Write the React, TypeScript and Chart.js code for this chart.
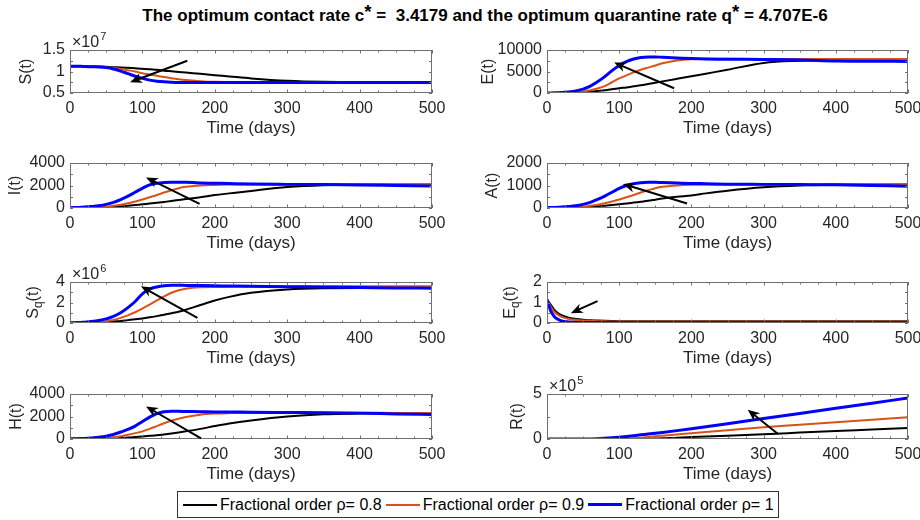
import React, { useEffect, useRef } from "react";
import { Chart, registerables } from "chart.js";

Chart.register(...registerables);

// ---------------- DATA ----------------
const days = [0, 5, 10, 15, 20, 30, 40, 50, 60, 70, 80, 90, 100, 110, 120, 130, 140, 150, 160, 180, 200, 220, 250, 300, 350, 400, 450, 500];
const xTicks = [0, 100, 200, 300, 400, 500];
const seriesNames = ["Fractional order ρ= 0.8", "Fractional order ρ= 0.9", "Fractional order ρ= 1"];

// S(t) ×10^7
const sRho08 = [1.12, 1.12, 1.12, 1.12, 1.12, 1.115, 1.115, 1.11, 1.10, 1.095, 1.085, 1.075, 1.065, 1.05, 1.04, 1.02, 1.005, 0.99, 0.975, 0.945, 0.915, 0.885, 0.84, 0.785, 0.76, 0.755, 0.75, 0.75];
const sRho09 = [1.12, 1.12, 1.12, 1.12, 1.12, 1.115, 1.11, 1.10, 1.08, 1.06, 1.03, 1.00, 0.96, 0.93, 0.90, 0.87, 0.845, 0.82, 0.80, 0.775, 0.76, 0.755, 0.75, 0.75, 0.75, 0.75, 0.75, 0.75];
const sRho1 = [1.12, 1.12, 1.12, 1.12, 1.115, 1.11, 1.105, 1.09, 1.06, 1.01, 0.95, 0.89, 0.84, 0.80, 0.775, 0.76, 0.75, 0.745, 0.745, 0.745, 0.745, 0.745, 0.745, 0.745, 0.745, 0.745, 0.745, 0.745];
const sTicks = [0.5, 1, 1.5];

// E(t)
const eRho08 = [0, 0, 5, 10, 15, 30, 60, 150, 300, 450, 650, 850, 1100, 1300, 1550, 1800, 2100, 2400, 2700, 3300, 3900, 4500, 5400, 7000, 7500, 7700, 7800, 7850];
const eRho09 = [0, 5, 15, 25, 40, 80, 170, 350, 650, 1050, 1600, 2500, 3400, 4100, 4800, 5400, 5900, 6400, 6900, 7550, 7850, 7950, 7950, 7900, 7900, 7900, 7900, 7900];
const eRho1 = [0, 10, 30, 60, 100, 250, 500, 900, 1600, 2600, 3800, 5200, 6400, 7300, 7900, 8250, 8400, 8400, 8300, 8150, 8000, 7900, 7850, 7800, 7700, 7450, 7400, 7350];
const eTicks = [0, 5000, 10000];

// I(t)
const iRho08 = [30, 30, 30, 30, 30, 35, 40, 60, 100, 150, 200, 260, 330, 390, 460, 540, 620, 710, 800, 960, 1150, 1300, 1520, 1860, 2030, 2080, 2090, 2080];
const iRho09 = [30, 30, 30, 32, 35, 45, 70, 120, 190, 290, 420, 580, 750, 950, 1150, 1380, 1580, 1760, 1880, 2000, 2050, 2080, 2100, 2100, 2100, 2110, 2120, 2120];
const iRho1 = [30, 40, 50, 60, 80, 130, 200, 320, 500, 750, 1050, 1400, 1750, 2050, 2200, 2270, 2300, 2300, 2280, 2230, 2200, 2170, 2130, 2100, 2080, 2050, 2000, 1950];
const iTicks = [0, 2000, 4000];

// A(t)
const aRho08 = [15, 15, 15, 15, 15, 18, 20, 30, 50, 75, 100, 130, 165, 200, 240, 280, 320, 370, 420, 500, 560, 650, 770, 920, 1000, 1030, 1040, 1040];
const aRho09 = [15, 15, 15, 16, 18, 22, 35, 60, 95, 145, 210, 290, 380, 480, 580, 690, 790, 880, 940, 1000, 1030, 1040, 1050, 1050, 1050, 1055, 1060, 1060];
const aRho1 = [15, 20, 25, 30, 40, 65, 100, 160, 250, 380, 530, 700, 870, 1000, 1080, 1120, 1140, 1140, 1130, 1110, 1090, 1080, 1060, 1050, 1040, 1030, 1000, 970];
const aTicks = [0, 1000, 2000];

// Sq(t) ×10^6
const sqRho08 = [0.02, 0.02, 0.02, 0.02, 0.02, 0.03, 0.04, 0.08, 0.14, 0.2, 0.28, 0.36, 0.45, 0.55, 0.67, 0.8, 0.95, 1.1, 1.3, 1.75, 2.2, 2.55, 2.95, 3.28, 3.4, 3.42, 3.42, 3.41];
const sqRho09 = [0.02, 0.02, 0.02, 0.03, 0.04, 0.05, 0.1, 0.18, 0.3, 0.5, 0.75, 1.05, 1.4, 1.8, 2.2, 2.6, 2.95, 3.2, 3.35, 3.48, 3.52, 3.54, 3.55, 3.56, 3.57, 3.58, 3.58, 3.58];
const sqRho1 = [0.02, 0.03, 0.04, 0.06, 0.08, 0.14, 0.24, 0.4, 0.65, 1.0, 1.5, 2.1, 2.85, 3.3, 3.52, 3.64, 3.68, 3.68, 3.67, 3.65, 3.63, 3.61, 3.58, 3.54, 3.51, 3.47, 3.42, 3.4];
const sqTicks = [0, 2, 4];

// Eq(t)
const eqRho08 = [1.15, 0.9, 0.65, 0.48, 0.38, 0.26, 0.2, 0.16, 0.13, 0.12, 0.11, 0.1, 0.09, 0.085, 0.08, 0.08, 0.08, 0.08, 0.08, 0.08, 0.08, 0.08, 0.08, 0.08, 0.08, 0.08, 0.08, 0.08];
const eqRho09 = [1.15, 0.8, 0.55, 0.4, 0.3, 0.2, 0.15, 0.12, 0.1, 0.09, 0.08, 0.075, 0.07, 0.07, 0.07, 0.07, 0.07, 0.07, 0.07, 0.07, 0.07, 0.07, 0.07, 0.07, 0.07, 0.07, 0.07, 0.07];
const eqRho1 = [1.15, 0.6, 0.32, 0.18, 0.1, 0.05, 0.03, 0.02, 0.02, 0.02, 0.02, 0.02, 0.02, 0.02, 0.02, 0.02, 0.02, 0.02, 0.02, 0.02, 0.02, 0.02, 0.02, 0.02, 0.02, 0.02, 0.02, 0.02];
const eqTicks = [0, 1, 2];

// H(t)
const hRho08 = [20, 20, 20, 20, 20, 22, 25, 40, 60, 90, 130, 170, 220, 280, 340, 410, 490, 580, 680, 900, 1150, 1380, 1650, 2000, 2200, 2260, 2280, 2280];
const hRho09 = [20, 20, 20, 20, 22, 30, 50, 90, 150, 250, 380, 520, 680, 900, 1150, 1400, 1620, 1800, 1950, 2160, 2260, 2300, 2320, 2320, 2330, 2330, 2320, 2320];
const hRho1 = [20, 25, 30, 40, 50, 90, 150, 250, 400, 620, 850, 1150, 1550, 1950, 2250, 2420, 2460, 2460, 2450, 2430, 2410, 2400, 2380, 2360, 2340, 2300, 2230, 2170];
const hTicks = [0, 2000, 4000];

// R(t) ×10^5
const rRho08 = [0, 0, 0, 0, 0, 0, 0, 0, 0, 0, 0, 0, 0, 0, 0.01, 0.02, 0.03, 0.05, 0.07, 0.15, 0.21, 0.27, 0.36, 0.52, 0.71, 0.9, 1.05, 1.22];
const rRho09 = [0, 0, 0, 0, 0, 0, 0, 0, 0, 0, 0, 0.01, 0.02, 0.05, 0.09, 0.15, 0.22, 0.3, 0.37, 0.51, 0.65, 0.78, 0.98, 1.31, 1.59, 1.87, 2.15, 2.43];
const rRho1 = [0, 0, 0, 0, 0, 0, 0, 0, 0.01, 0.03, 0.07, 0.13, 0.2, 0.28, 0.37, 0.46, 0.55, 0.64, 0.73, 0.93, 1.14, 1.36, 1.7, 2.27, 2.84, 3.41, 3.98, 4.55];
const rTicks = [0, 5];

// Arrow annotations in data coordinates: [fromX, fromY, toX, toY]
const sArrow = [162, 1.25, 83, 0.75];
const eArrow = [176, 1100, 93, 7100];
const iArrow = [179, 360, 105, 2720];
const aArrow = [194, 200, 105, 1070];
const sqArrow = [176, 0.49, 98, 3.58];
const eqArrow = [70, 1.07, 33, 0.48];
const hArrow = [181, 60, 105, 2900];
const rArrow = [320, 0.56, 278, 3.25];

// ---------------- STYLE / LAYOUT ----------------
const FONT = "'Liberation Sans', Arial, Helvetica, sans-serif";
const TEXT = "#262626";
const colors = ["#000000", "#D95319", "#0000FF"];
const widths = [2, 2, 3];
const plotL = [70, 547];
const plotR = [432, 908];
const plotT = [50, 163, 282, 394];
const plotB = [93, 208, 323, 439];

type PanelCfg = {
  main: string; sub: string; tail: string; exp: string;
  series: number[][]; yTicks: number[]; arrow: number[];
  col: number; row: number; labelDX: number;
};

const panels: PanelCfg[] = [
  { main: "S", sub: "", tail: "(t)", exp: "7", series: [sRho08, sRho09, sRho1], yTicks: sTicks, arrow: sArrow, col: 0, row: 0, labelDX: 43 },
  { main: "E", sub: "", tail: "(t)", exp: "", series: [eRho08, eRho09, eRho1], yTicks: eTicks, arrow: eArrow, col: 1, row: 0, labelDX: 58 },
  { main: "I", sub: "", tail: "(t)", exp: "", series: [iRho08, iRho09, iRho1], yTicks: iTicks, arrow: iArrow, col: 0, row: 1, labelDX: 54 },
  { main: "A", sub: "", tail: "(t)", exp: "", series: [aRho08, aRho09, aRho1], yTicks: aTicks, arrow: aArrow, col: 1, row: 1, labelDX: 54 },
  { main: "S", sub: "q", tail: "(t)", exp: "6", series: [sqRho08, sqRho09, sqRho1], yTicks: sqTicks, arrow: sqArrow, col: 0, row: 2, labelDX: 36 },
  { main: "E", sub: "q", tail: "(t)", exp: "", series: [eqRho08, eqRho09, eqRho1], yTicks: eqTicks, arrow: eqArrow, col: 1, row: 2, labelDX: 36 },
  { main: "H", sub: "", tail: "(t)", exp: "", series: [hRho08, hRho09, hRho1], yTicks: hTicks, arrow: hArrow, col: 0, row: 3, labelDX: 53 },
  { main: "R", sub: "", tail: "(t)", exp: "5", series: [rRho08, rRho09, rRho1], yTicks: rTicks, arrow: rArrow, col: 1, row: 3, labelDX: 29 },
];

const PAD_TOP = 22;
const XAXIS_H = 46;

function decorPlugin(cfg: PanelCfg) {
  return {
    id: "decor",
    afterDraw(chart: any) {
      const { ctx, chartArea: a, scales } = chart;
      const xs = scales.x;
      const ys = scales.y;
      ctx.save();
      // frame
      ctx.strokeStyle = "#707070";
      ctx.lineWidth = 1;
      ctx.strokeRect(a.left + 0.5, a.top + 0.5, a.right - a.left - 1, a.bottom - a.top - 1);
      // x ticks (major 100, minor 25), inward on top and bottom
      ctx.beginPath();
      for (let v = 0; v <= 500; v += 25) {
        const px = Math.round(xs.getPixelForValue(v)) + 0.5;
        const len = v % 100 === 0 ? 3.5 : 2.5;
        ctx.moveTo(px, a.bottom);
        ctx.lineTo(px, a.bottom - len);
        ctx.moveTo(px, a.top);
        ctx.lineTo(px, a.top + len);
      }
      // y ticks (major + half steps)
      const yt = cfg.yTicks;
      const step = (yt[yt.length - 1] - yt[0]) / (yt.length - 1) / 2;
      for (let k = 0; k <= (yt.length - 1) * 2; k++) {
        const v = yt[0] + k * step;
        const py = Math.round(ys.getPixelForValue(v)) + 0.5;
        ctx.moveTo(a.left, py);
        ctx.lineTo(a.left + 3, py);
        ctx.moveTo(a.right, py);
        ctx.lineTo(a.right - 3, py);
      }
      ctx.stroke();

      // arrow
      const [x0, y0, x1, y1] = cfg.arrow;
      const p0x = xs.getPixelForValue(x0), p0y = ys.getPixelForValue(y0);
      const p1x = xs.getPixelForValue(x1), p1y = ys.getPixelForValue(y1);
      const dx = p1x - p0x, dy = p1y - p0y;
      const len = Math.hypot(dx, dy);
      const ux = dx / len, uy = dy / len;
      const nx = -uy, ny = ux;
      const L = 12, W = 10;
      ctx.strokeStyle = "#000";
      ctx.fillStyle = "#000";
      ctx.lineWidth = 2;
      ctx.beginPath();
      ctx.moveTo(p0x, p0y);
      ctx.lineTo(p1x - ux * L * 0.6, p1y - uy * L * 0.6);
      ctx.stroke();
      ctx.beginPath();
      ctx.moveTo(p1x, p1y);
      ctx.lineTo(p1x - ux * L + nx * W / 2, p1y - uy * L + ny * W / 2);
      ctx.lineTo(p1x - ux * L * 0.7, p1y - uy * L * 0.7);
      ctx.lineTo(p1x - ux * L - nx * W / 2, p1y - uy * L - ny * W / 2);
      ctx.closePath();
      ctx.fill();

      // y label (with optional subscript)
      ctx.fillStyle = TEXT;
      const cx = a.left - cfg.labelDX;
      const cy = (a.top + a.bottom) / 2;
      ctx.translate(cx, cy);
      ctx.rotate(-Math.PI / 2);
      ctx.textBaseline = "middle";
      ctx.textAlign = "left";
      const mainFont = `16px ${FONT}`;
      const subFont = `12px ${FONT}`;
      ctx.font = mainFont;
      const wMain = ctx.measureText(cfg.main).width;
      const wTail = ctx.measureText(cfg.tail).width;
      ctx.font = subFont;
      const wSub = cfg.sub ? ctx.measureText(cfg.sub).width : 0;
      let sx = -(wMain + wSub + wTail) / 2;
      ctx.font = mainFont;
      ctx.fillText(cfg.main, sx, 0);
      sx += wMain;
      if (cfg.sub) {
        ctx.font = subFont;
        ctx.fillText(cfg.sub, sx, 5);
        sx += wSub;
        ctx.font = mainFont;
      }
      ctx.fillText(cfg.tail, sx, 0);
      ctx.setTransform(1, 0, 0, 1, 0, 0);

      // exponent label
      if (cfg.exp) {
        ctx.textBaseline = "alphabetic";
        ctx.textAlign = "left";
        ctx.font = `16px ${FONT}`;
        const bx = a.left + 2;
        const by = a.top - 3;
        ctx.fillText("×10", bx, by);
        const w = ctx.measureText("×10").width;
        ctx.font = `11px ${FONT}`;
        ctx.fillText(cfg.exp, bx + w + 1, by - 7);
      }
      ctx.restore();
    },
  };
}

function Panel({ cfg }: { cfg: PanelCfg }) {
  const ref = useRef<HTMLCanvasElement>(null);
  const canvasL = cfg.col === 0 ? 0 : 460;
  const canvasW = cfg.col === 0 ? 460 : 480;
  const pt = plotT[cfg.row];
  const pb = plotB[cfg.row];
  const canvasT = pt - PAD_TOP;
  const canvasH = PAD_TOP + (pb - pt) + XAXIS_H;
  const padRight = canvasW - (plotR[cfg.col] - canvasL);
  const yAxisW = plotL[cfg.col] - canvasL;

  useEffect(() => {
    const canvas = ref.current;
    if (!canvas) return;
    const yt = cfg.yTicks;
    const chart = new Chart(canvas, {
      type: "line",
      data: {
        datasets: cfg.series.map((s, k) => ({
          label: seriesNames[k],
          data: days.map((d, i) => ({ x: d, y: s[i] })),
          borderColor: colors[k],
          backgroundColor: colors[k],
          borderWidth: widths[k],
          pointRadius: 0,
          fill: false,
          cubicInterpolationMode: "monotone" as const,
          order: 3 - k,
        })),
      },
      options: {
        responsive: false,
        maintainAspectRatio: false,
        animation: false,
        events: [],
        devicePixelRatio: 1,
        layout: { padding: { top: PAD_TOP, right: padRight, left: 0, bottom: 0 } },
        plugins: {
          legend: { display: false },
          tooltip: { enabled: false },
          title: { display: false },
        },
        scales: {
          x: {
            type: "linear",
            min: 0,
            max: 500,
            grid: { display: false, drawTicks: false },
            border: { display: false },
            afterBuildTicks: (s: any) => {
              s.ticks = xTicks.map((v) => ({ value: v }));
            },
            afterFit: (s: any) => {
              s.height = XAXIS_H;
            },
            ticks: {
              font: { family: FONT, size: 16 },
              color: TEXT,
              padding: 6,
              maxRotation: 0,
              minRotation: 0,
              autoSkip: false,
              callback: (v: any) => String(v),
            },
            title: {
              display: true,
              text: "Time (days)",
              font: { family: FONT, size: 17 },
              color: TEXT,
              padding: { top: 0, bottom: 0 },
            },
          },
          y: {
            type: "linear",
            min: yt[0],
            max: yt[yt.length - 1],
            grid: { display: false, drawTicks: false },
            border: { display: false },
            afterBuildTicks: (s: any) => {
              s.ticks = yt.map((v) => ({ value: v }));
            },
            afterFit: (s: any) => {
              s.width = yAxisW;
            },
            ticks: {
              font: { family: FONT, size: 16 },
              color: TEXT,
              padding: 5,
              autoSkip: false,
              callback: (v: any) => String(v),
            },
          },
        },
      } as any,
      plugins: [decorPlugin(cfg)],
    });
    return () => chart.destroy();
  }, []);

  return (
    <canvas
      ref={ref}
      width={canvasW}
      height={canvasH}
      style={{ position: "absolute", left: canvasL, top: canvasT, width: canvasW, height: canvasH }}
    />
  );
}

const legendLine = (color: string, w: number) => (
  <span style={{ display: "inline-block", width: 34, height: 0, borderTop: `${w}px solid ${color}`, marginRight: 3 }} />
);

export default function App() {
  return (
    <div
      style={{
        position: "absolute",
        left: 0,
        top: 0,
        width: 920,
        height: 520,
        overflow: "hidden",
        background: "#ffffff",
        fontFamily: FONT,
      }}
    >
      <div
        style={{
          position: "absolute",
          left: 485,
          top: 5,
          transform: "translateX(-50%)",
          whiteSpace: "pre",
          fontWeight: "bold",
          fontSize: 17,
          lineHeight: "20px",
          color: "#000",
        }}
      >
        The optimum contact rate c<span style={{ position: "relative", top: -3, fontSize: "1.1em" }}>*</span> =  3.4179 and the optimum quarantine rate q<span style={{ position: "relative", top: -3, fontSize: "1.1em" }}>*</span> = 4.707E-6
      </div>
      {panels.map((p, i) => (
        <Panel key={i} cfg={p} />
      ))}
      <div
        style={{
          position: "absolute",
          left: 177,
          top: 491,
          width: 602,
          height: 27,
          boxSizing: "border-box",
          border: "1px solid #333",
          background: "#fff",
          display: "flex",
          alignItems: "center",
          paddingLeft: 5,
          fontSize: 16,
          color: "#000",
          whiteSpace: "pre",
        }}
      >
        {seriesNames.map((n, k) => (
          <span key={k} style={{ display: "inline-flex", alignItems: "center", marginRight: 4 }}>
            {legendLine(colors[k], widths[k])}
            <span>{n}</span>
          </span>
        ))}
      </div>
    </div>
  );
}
